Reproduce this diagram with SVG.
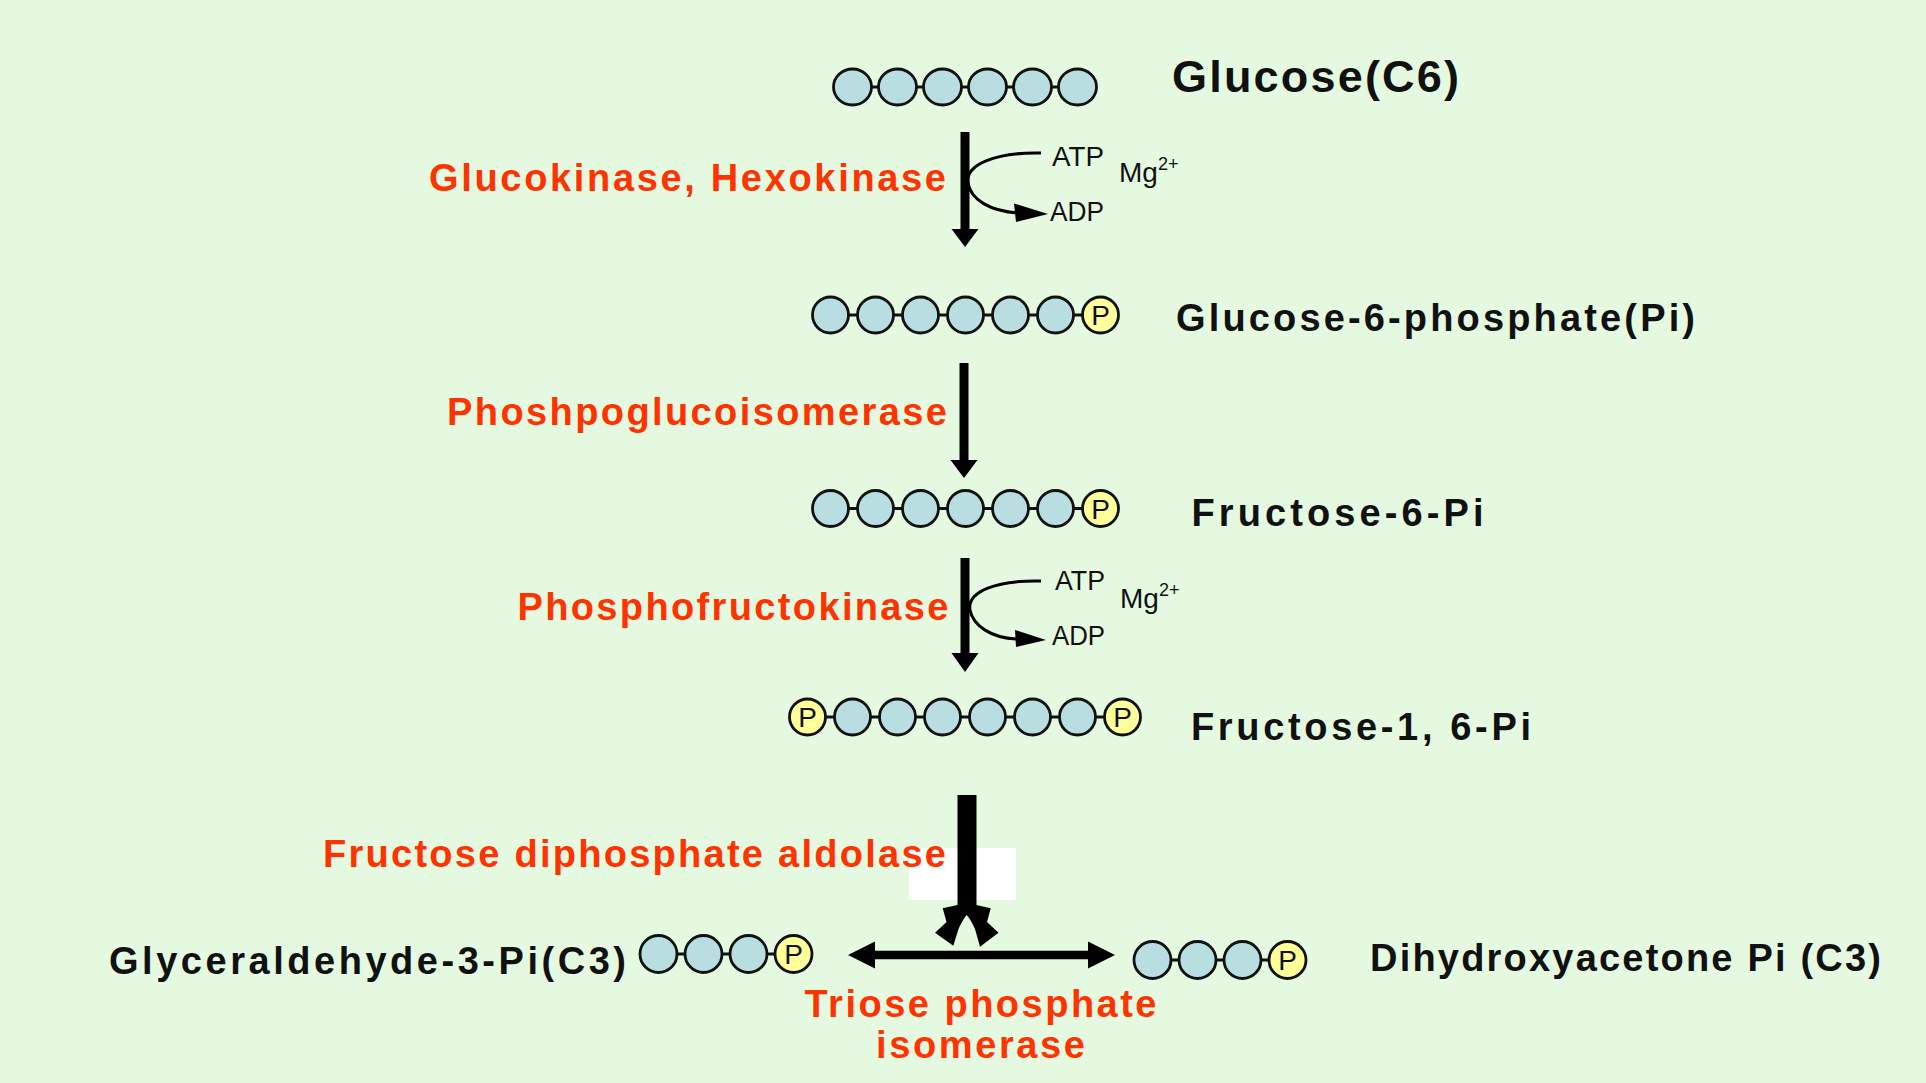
<svg xmlns="http://www.w3.org/2000/svg" width="1926" height="1083" viewBox="0 0 1926 1083">
<style>
.bg{fill:#E5F9E1}
.c{fill:#B9DEE1;stroke:#111;stroke-width:2.8}
.p{fill:#FFFF99;stroke:#111;stroke-width:2.8}
.bond{stroke:#111;stroke-width:3}
.pt{font-family:"Liberation Sans",Arial,sans-serif;font-size:28px;fill:#111;text-anchor:middle}
.lbl{font-family:"Liberation Sans",Arial,sans-serif;font-weight:bold;font-size:38px;fill:#111}
.enz{font-family:"Liberation Sans",Arial,sans-serif;font-weight:bold;font-size:38px;fill:#FF3300}
.thin{font-family:"Liberation Sans",Arial,sans-serif;font-size:28px;fill:#111}
.sup{font-size:18px}
.shaft{stroke:#000;stroke-width:9;fill:none}
.curve{stroke:#000;stroke-width:3;fill:none}
.head{fill:#000}
</style>
<rect class="bg" x="0" y="0" width="1926" height="1083"/>

<g id="node-glucose">
  <line class="bond" x1="852.5" y1="87" x2="1077.5" y2="87"/>
  <ellipse class="c" cx="852.5" cy="87" rx="19" ry="18"/>
  <ellipse class="c" cx="897.5" cy="87" rx="19" ry="18"/>
  <ellipse class="c" cx="942.5" cy="87" rx="19" ry="18"/>
  <ellipse class="c" cx="987.5" cy="87" rx="19" ry="18"/>
  <ellipse class="c" cx="1032.5" cy="87" rx="19" ry="18"/>
  <ellipse class="c" cx="1077.5" cy="87" rx="19" ry="18"/>
  <text class="lbl" x="1172" y="92" style="font-size:45px" textLength="287" lengthAdjust="spacing">Glucose(C6)</text>
</g>

<g id="node-g6p">
  <line class="bond" x1="830.5" y1="315" x2="1100.5" y2="315"/>
  <ellipse class="c" cx="830.5" cy="315" rx="18" ry="18"/>
  <ellipse class="c" cx="875.5" cy="315" rx="18" ry="18"/>
  <ellipse class="c" cx="920.5" cy="315" rx="18" ry="18"/>
  <ellipse class="c" cx="965.5" cy="315" rx="18" ry="18"/>
  <ellipse class="c" cx="1010.5" cy="315" rx="18" ry="18"/>
  <ellipse class="c" cx="1055.5" cy="315" rx="18" ry="18"/>
  <ellipse class="p" cx="1100.5" cy="315" rx="18" ry="18"/>
  <text class="pt" x="1100.5" y="325">P</text>
  <text class="lbl" x="1176" y="331" textLength="519" lengthAdjust="spacing">Glucose-6-phosphate(Pi)</text>
</g>

<g id="node-f6p">
  <line class="bond" x1="830.5" y1="508.5" x2="1100.5" y2="508.5"/>
  <ellipse class="c" cx="830.5" cy="508.5" rx="18" ry="18"/>
  <ellipse class="c" cx="875.5" cy="508.5" rx="18" ry="18"/>
  <ellipse class="c" cx="920.5" cy="508.5" rx="18" ry="18"/>
  <ellipse class="c" cx="965.5" cy="508.5" rx="18" ry="18"/>
  <ellipse class="c" cx="1010.5" cy="508.5" rx="18" ry="18"/>
  <ellipse class="c" cx="1055.5" cy="508.5" rx="18" ry="18"/>
  <ellipse class="p" cx="1100.5" cy="508.5" rx="18" ry="18"/>
  <text class="pt" x="1100.5" y="518.5">P</text>
  <text class="lbl" x="1191.5" y="526" textLength="292" lengthAdjust="spacing">Fructose-6-Pi</text>
</g>

<g id="node-f16bp">
  <line class="bond" x1="807.5" y1="717" x2="1122.5" y2="717"/>
  <ellipse class="p" cx="807.5" cy="717" rx="18" ry="18"/>
  <ellipse class="c" cx="852.5" cy="717" rx="18" ry="18"/>
  <ellipse class="c" cx="897.5" cy="717" rx="18" ry="18"/>
  <ellipse class="c" cx="942.5" cy="717" rx="18" ry="18"/>
  <ellipse class="c" cx="987.5" cy="717" rx="18" ry="18"/>
  <ellipse class="c" cx="1032.5" cy="717" rx="18" ry="18"/>
  <ellipse class="c" cx="1077.5" cy="717" rx="18" ry="18"/>
  <ellipse class="p" cx="1122.5" cy="717" rx="18" ry="18"/>
  <text class="pt" x="807.5" y="727">P</text>
  <text class="pt" x="1122.5" y="727">P</text>
  <text class="lbl" x="1191" y="740" textLength="340" lengthAdjust="spacing">Fructose-1, 6-Pi</text>
</g>

<g id="node-gap">
  <line class="bond" x1="658.5" y1="954" x2="793.5" y2="954"/>
  <ellipse class="c" cx="658.5" cy="954" rx="18.5" ry="18.5"/>
  <ellipse class="c" cx="703.5" cy="954" rx="18.5" ry="18.5"/>
  <ellipse class="c" cx="748.5" cy="954" rx="18.5" ry="18.5"/>
  <ellipse class="p" cx="793.5" cy="954" rx="18.5" ry="18.5"/>
  <text class="pt" x="793.5" y="964">P</text>
  <text class="lbl" x="109" y="974" textLength="517" lengthAdjust="spacing">Glyceraldehyde-3-Pi(C3)</text>
</g>

<g id="node-dhap">
  <line class="bond" x1="1152.5" y1="960" x2="1287.5" y2="960"/>
  <ellipse class="c" cx="1152.5" cy="960" rx="18.5" ry="18.5"/>
  <ellipse class="c" cx="1197.5" cy="960" rx="18.5" ry="18.5"/>
  <ellipse class="c" cx="1242.5" cy="960" rx="18.5" ry="18.5"/>
  <ellipse class="p" cx="1287.5" cy="960" rx="18.5" ry="18.5"/>
  <text class="pt" x="1287.5" y="970">P</text>
  <text class="lbl" x="1370" y="970.5" textLength="511" lengthAdjust="spacing">Dihydroxyacetone Pi (C3)</text>
</g>

<g id="enzymes">
  <text class="enz" x="429" y="191" textLength="517" lengthAdjust="spacing">Glucokinase, Hexokinase</text>
  <text class="enz" x="447" y="425" textLength="500" lengthAdjust="spacing">Phoshpoglucoisomerase</text>
  <text class="enz" x="517.5" y="620" textLength="431" lengthAdjust="spacing">Phosphofructokinase</text>
  <rect x="909" y="848" width="107" height="52" fill="#FFFFFF"/>
  <text class="enz" x="323" y="867" textLength="623" lengthAdjust="spacing">Fructose diphosphate aldolase</text>
  <text class="enz" x="804.5" y="1017" textLength="352" lengthAdjust="spacing">Triose phosphate</text>
  <text class="enz" x="876" y="1058" textLength="209" lengthAdjust="spacing">isomerase</text>
</g>

<g id="cofactors">
  <text class="thin" x="1052" y="166" textLength="52" lengthAdjust="spacingAndGlyphs">ATP</text>
  <text class="thin" x="1050" y="221" textLength="54" lengthAdjust="spacingAndGlyphs">ADP</text>
  <text class="thin" x="1119" y="182">Mg<tspan class="sup" dy="-12">2+</tspan></text>
  <text class="thin" x="1055" y="590" textLength="50" lengthAdjust="spacingAndGlyphs">ATP</text>
  <text class="thin" x="1052" y="645" textLength="53" lengthAdjust="spacingAndGlyphs">ADP</text>
  <text class="thin" x="1120" y="608">Mg<tspan class="sup" dy="-12">2+</tspan></text>
</g>

<g id="connectors">
  <line class="shaft" x1="965" y1="132" x2="965" y2="235"/>
  <polygon class="head" points="951.5,229 978.5,229 965,247"/>
  <path class="curve" d="M1041,153 C995,152 965,165 968,183 C971,200 990,211 1018,213"/>
  <polygon class="head" points="1048,214 1014,203.5 1016,222"/>

  <line class="shaft" x1="964" y1="363" x2="964" y2="466"/>
  <polygon class="head" points="950.5,460 977.5,460 964,478"/>

  <line class="shaft" x1="965" y1="558" x2="965" y2="660"/>
  <polygon class="head" points="951.5,653 978.5,653 965,672"/>
  <path class="curve" d="M1041,581 C995,580 967,592 970,610 C973,626 992,638 1016,639"/>
  <polygon class="head" points="1046,640 1015,630 1016,647"/>

  <rect class="head" x="957.5" y="795" width="19" height="111"/>
  <path class="head" d="M957.5,905 L942.7,908.3 L946.5,922 L935,932.7 L953.3,945.7 L958.5,929 Q962.5,920 966.7,915 Q971,920 975,929 L980,946.7 L998.5,932.7 L987,922 L990.7,908.3 L976.5,905 Z"/>

  <line class="shaft" x1="870" y1="955" x2="1093" y2="955" style="stroke-width:8.5"/>
  <polygon class="head" points="848,955 875,941.5 875,968.5"/>
  <polygon class="head" points="1115,955 1088,941.5 1088,968.5"/>
</g>
</svg>
